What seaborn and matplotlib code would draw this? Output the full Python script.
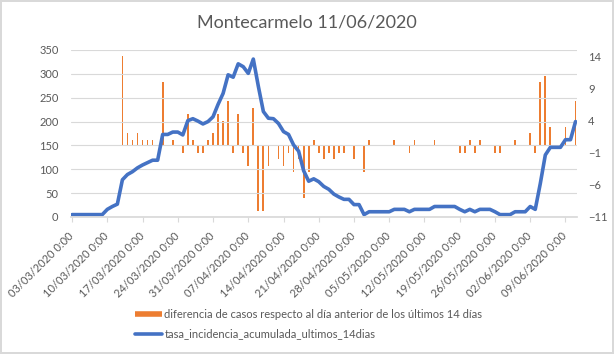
import matplotlib
matplotlib.use('Agg')
import numpy as np
import pandas as pd
import matplotlib.pyplot as plt
import seaborn as sns
from matplotlib.lines import Line2D
from matplotlib.transforms import ScaledTranslation

# Datos (03/03/2020 .. 11/06/2020, uno por día)
fechas = pd.date_range('2020-03-03', periods=101, freq='D')

tasa_incidencia = [
    5, 5, 5, 5, 5, 5, 5, 16, 22, 27,
    78, 89, 95, 103, 109, 114, 119, 119, 173, 173,
    178, 178, 172, 202, 206, 201, 195, 200, 210, 236,
    259, 298, 293, 321, 315, 301, 331, 274, 221, 207,
    206, 196, 179, 173, 151, 138, 97, 75, 80, 74,
    64, 58, 48, 42, 37, 37, 26, 26, 5, 11,
    11, 11, 11, 11, 16, 16, 16, 11, 16, 16,
    16, 16, 22, 22, 22, 22, 22, 16, 11, 16,
    11, 16, 16, 16, 11, 5, 5, 5, 11, 11,
    11, 22, 16, 70, 130, 146, 146, 146, 162, 162,
    200,
]

diferencia_casos = [
    0, 0, 0, 0, 0, 0, 0, 0, 0, 0,
    14, 2, 1, 2, 1, 1, 1, 0, 10, 0,
    1, 0, -1, 5, 1, -1, -1, 1, 2, 5,
    4, 7, -1, 5, -1, -3, 6, -10, -10, -3,
    0, -2, -3, -1, -4, -2, -8, -4, 1, -1,
    -2, -1, -2, -1, -1, 0, -2, 0, -4, 1,
    0, 0, 0, 0, 1, 0, 0, -1, 1, 0,
    0, 0, 1, 0, 0, 0, 0, -1, -1, 1,
    -1, 1, 0, 0, -1, -1, 0, 0, 1, 0,
    0, 2, -1, 10, 11, 3, 0, 0, 3, 0,
    7,
]

ticks_fechas = pd.date_range('2020-03-03', '2020-06-09', freq='7D')
ticks_izq = [0, 50, 100, 150, 200, 250, 300, 350]
ticks_der = [-11, -6, -1, 4, 9, 14]

titulo = 'Montecarmelo 11/06/2020'
etiqueta_barras = 'diferencia de casos respecto al día anterior de los últimos 14 días'
etiqueta_linea = 'tasa_incidencia_acumulada_ultimos_14dias'

naranja = '#ED7D31'
azul = '#4472C4'
gris_texto = '#595959'
gris_linea = '#D9D9D9'

sns.set_theme(style='white')
plt.rcParams['font.family'] = ['Lato', 'DejaVu Sans']

fig = plt.figure(figsize=(6.14, 3.54), dpi=100)
fig.patch.set_edgecolor(gris_linea)
fig.patch.set_linewidth(1.5)

ax = fig.add_axes([71 / 614, 1 - 217 / 354, 506 / 614, 167 / 354])
ax2 = ax.twinx()

# barras en el eje secundario
ax2.bar(fechas, diferencia_casos, width=0.35, color=naranja, linewidth=0)
ax2.set_ylim(-11, 15)
ax2.set_yticks(ticks_der)

# línea en el eje principal, por encima de las barras
sns.lineplot(x=fechas, y=tasa_incidencia, ax=ax, color=azul, linewidth=2.6)
ax.set_zorder(ax2.get_zorder() + 1)
ax.patch.set_visible(False)

ax.set_ylim(0, 350)
ax.set_yticks(ticks_izq)
ax.set_xlim(fechas[0] - pd.Timedelta(hours=5), fechas[-1] + pd.Timedelta(hours=7))
ax.set_xticks(ticks_fechas)
ax.set_xticklabels([f.strftime('%d/%m/%Y') + ' 0:00' for f in ticks_fechas],
                   rotation=45, ha='right', va='center', rotation_mode='anchor')
desplaza = ScaledTranslation(3 / 100, 0, fig.dpi_scale_trans)
for etiqueta in ax.get_xticklabels():
    etiqueta.set_transform(etiqueta.get_transform() + desplaza)
ax.set_xlabel('')
ax.set_ylabel('')

ax.yaxis.grid(True, color=gris_linea, linewidth=0.8)
ax.xaxis.grid(False)
for a in (ax, ax2):
    for lado in ('top', 'left', 'right', 'bottom'):
        a.spines[lado].set_visible(False)
ax.spines['bottom'].set_visible(True)
ax.spines['bottom'].set_color(gris_linea)

ax.tick_params(axis='y', length=0, labelsize=8, colors=gris_texto, pad=9)
ax2.tick_params(axis='y', length=0, labelsize=8, colors=gris_texto, pad=8)
ax.tick_params(axis='x', length=3.5, width=0.8, color=gris_linea, labelsize=8,
               labelcolor=gris_texto, pad=9, bottom=True)
ax2.tick_params(axis='x', bottom=False, labelbottom=False)

fig.text(0.5, 1 - 22 / 354, titulo, ha='center', va='center', fontsize=13, color=gris_texto)

handles = [Line2D([], [], color=naranja, linewidth=4, solid_capstyle='butt'),
           Line2D([], [], color=azul, linewidth=2.6)]
fig.legend(handles, [etiqueta_barras, etiqueta_linea], loc='center',
           bbox_to_anchor=(0.503, 1 - 324 / 354), frameon=False, fontsize=8,
           labelcolor=gris_texto, handlelength=2.4, handletextpad=0.2, labelspacing=0.8)

fig.savefig('out.png', dpi=100)
